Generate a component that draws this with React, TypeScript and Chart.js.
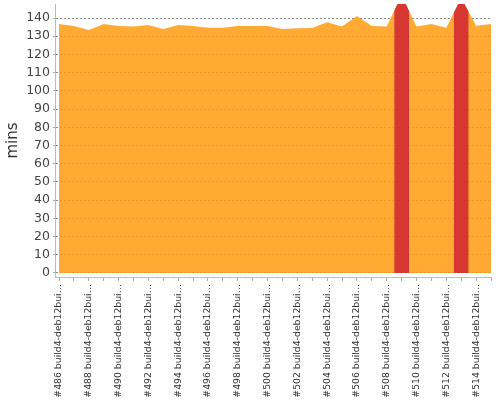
import React, { useEffect, useRef } from 'react';
import { Chart, registerables } from 'chart.js';

Chart.register(...registerables);

const buildLabels: string[] = [
  '#486 build4-deb12bui…', '#487 build4-deb12bui…', '#488 build4-deb12bui…', '#489 build4-deb12bui…',
  '#490 build4-deb12bui…', '#491 build4-deb12bui…', '#492 build4-deb12bui…', '#493 build4-deb12bui…',
  '#494 build4-deb12bui…', '#495 build4-deb12bui…', '#496 build4-deb12bui…', '#497 build4-deb12bui…',
  '#498 build4-deb12bui…', '#499 build4-deb12bui…', '#500 build4-deb12bui…', '#501 build4-deb12bui…',
  '#502 build4-deb12bui…', '#503 build4-deb12bui…', '#504 build4-deb12bui…', '#505 build4-deb12bui…',
  '#506 build4-deb12bui…', '#507 build4-deb12bui…', '#508 build4-deb12bui…', '#509 build4-deb12bui…',
  '#510 build4-deb12bui…', '#511 build4-deb12bui…', '#512 build4-deb12bui…', '#513 build4-deb12bui…',
  '#514 build4-deb12bui…', '#515 build4-deb12bui…',
];

const durations: number[] = [
  136.7, 135.6, 133.4, 136.7, 135.6, 135.3, 136.2, 134.0, 136.2, 135.6,
  134.7, 134.7, 135.6, 135.6, 135.6, 134.0, 134.4, 134.5, 137.7, 135.3,
  141.1, 135.6, 135.3, 152.5, 135.3, 136.7, 134.7, 151.0, 135.8, 136.7,
];

const results: string[] = [
  'success', 'success', 'success', 'success', 'success', 'success', 'success', 'success', 'success', 'success',
  'success', 'success', 'success', 'success', 'success', 'success', 'success', 'success', 'success', 'success',
  'success', 'success', 'success', 'failure', 'success', 'success', 'success', 'failure', 'success', 'success',
];

const yTickValues: number[] = [0, 10, 20, 30, 40, 50, 60, 70, 80, 90, 100, 110, 120, 130, 140];

const yAxisTitle = 'mins';

export default function App() {
  const ref = useRef<HTMLCanvasElement>(null);

  useEffect(() => {
    if (!ref.current) return;
    Chart.defaults.font.family = "'DejaVu Sans', sans-serif";

    const mid = (a: number, b: number) => (a + b) / 2;
    const failedSets = results.flatMap((r, i) => {
      if (r !== 'failure') return [];
      const prev = i > 0 ? durations[i - 1] : durations[i];
      const next = i < durations.length - 1 ? durations[i + 1] : durations[i];
      return [{
        type: 'line' as const,
        label: buildLabels[i],
        data: [
          { x: i - 0.5, y: mid(prev, durations[i]) },
          { x: i, y: durations[i] },
          { x: i + 0.5, y: mid(durations[i], next) },
        ],
        fill: 'origin',
        backgroundColor: 'rgba(208,35,50,0.85)',
        borderWidth: 0,
        pointRadius: 0,
        tension: 0,
        order: 1,
      }];
    });

    const chart = new Chart(ref.current, {
      type: 'line',
      data: {
        datasets: [
          {
            label: 'Build time',
            data: durations.map((v, i) => ({ x: i, y: v })),
            fill: 'origin',
            backgroundColor: 'rgba(255,155,14,0.85)',
            borderWidth: 0,
            pointRadius: 0,
            tension: 0,
            order: 2,
          },
          ...failedSets,
        ] as any,
      },
      options: {
        animation: false,
        responsive: false,
        events: [],
        layout: { padding: { top: 4, right: 9, left: 0, bottom: 0 } },
        plugins: { legend: { display: false }, tooltip: { enabled: false } },
        scales: {
          x: {
            type: 'linear',
            min: -0.27,
            max: durations.length - 1,
            afterBuildTicks: (scale: any) => {
              scale.ticks = buildLabels.map((_, i) => ({ value: i }));
            },
            afterFit: (scale: any) => {
              scale.height = 123;
              scale.paddingLeft = 0;
              scale.paddingRight = 0;
            },
            grid: {
              display: true,
              drawOnChartArea: false,
              drawTicks: true,
              tickLength: 4,
              tickColor: '#aaaaaa',
            },
            border: { display: true, color: '#bbbbbb', width: 1 },
            ticks: {
              autoSkip: false,
              minRotation: 90,
              maxRotation: 90,
              padding: 3,
              color: '#333333',
              font: { size: 9.3 },
              callback: (value: any) => {
                const i = Math.round(Number(value));
                return i % 2 === 0 && buildLabels[i] ? buildLabels[i] : '';
              },
            },
          },
          y: {
            type: 'linear',
            min: -2.2,
            max: 147.7,
            afterBuildTicks: (scale: any) => {
              scale.ticks = yTickValues.map((v) => ({ value: v }));
            },
            afterFit: (scale: any) => {
              scale.width = 55;
              scale.paddingTop = 0;
              scale.paddingBottom = 0;
            },
            grid: {
              display: true,
              drawOnChartArea: true,
              drawTicks: true,
              tickLength: 2,
              color: 'rgba(120,120,120,0.85)',
              tickColor: '#aaaaaa',
            },
            border: { display: true, color: '#bbbbbb', width: 1, dash: [2, 2] },
            ticks: {
              padding: 3,
              color: '#444444',
              font: { size: 12.5 },
            },
            title: {
              display: true,
              text: yAxisTitle,
              color: '#333333',
              font: { size: 15 },
              padding: { top: 4, bottom: 0 },
            },
          },
        },
      },
    });
    return () => chart.destroy();
  }, []);

  return (
    <div style={{ position: 'fixed', left: 0, top: 0, width: 500, height: 400, background: '#fff' }}>
      <canvas ref={ref} width={500} height={400} style={{ display: 'block' }} />
    </div>
  );
}
